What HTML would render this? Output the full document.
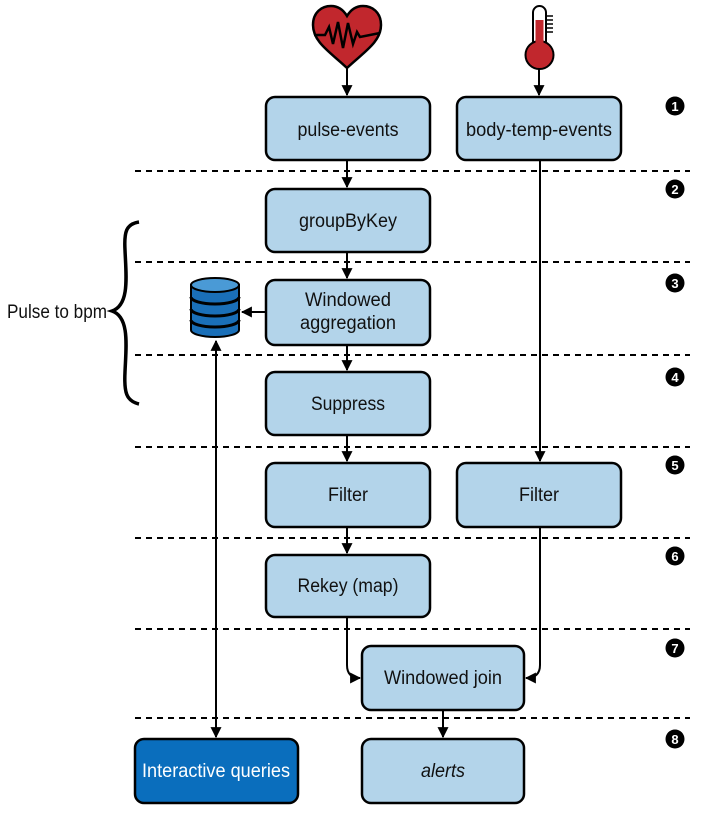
<!DOCTYPE html>
<html><head><meta charset="utf-8"><style>
html,body{margin:0;padding:0;background:#fff;}
svg{display:block}
text{font-family:"Liberation Sans Narrow","Liberation Sans",sans-serif;font-size:19px;fill:#111;}
</style></head><body>
<svg width="709" height="815" viewBox="0 0 709 815" xmlns="http://www.w3.org/2000/svg">
<defs>
<marker id="a" viewBox="0 0 10 10" refX="9" refY="5" markerWidth="5.5" markerHeight="5.5" orient="auto-start-reverse"><path d="M0,0 L10,5 L0,10 z" fill="#000"/></marker>
</defs>
<g stroke="#000" stroke-width="2" stroke-dasharray="6,5">
<line x1="135" y1="171" x2="690" y2="171"/>
<line x1="135" y1="262" x2="690" y2="262"/>
<line x1="135" y1="355" x2="690" y2="355"/>
<line x1="135" y1="447" x2="690" y2="447"/>
<line x1="135" y1="538" x2="690" y2="538"/>
<line x1="135" y1="629" x2="690" y2="629"/>
<line x1="135" y1="718" x2="690" y2="718"/>
</g>
<!-- heart -->
<path d="M347,68 C330,52 313,42 313,25 C313,12 322,6 331,6 C339,6 344,11 347,16 C350,11 355,6 363,6 C372,6 381,12 381,25 C381,42 364,52 347,68 Z" fill="#c1272d" stroke="#000" stroke-width="2.5"/>
<polyline points="314,35 325,35 329,27 333,44 338,22 343,48 348,23 353,44 357,32 360,37 380,33" fill="none" stroke="#000" stroke-width="2.5"/>
<!-- thermometer -->
<rect x="533" y="6" width="13" height="42" rx="6.5" fill="#fff" stroke="#000" stroke-width="2"/>
<rect x="535.5" y="20" width="8" height="34" fill="#c1272d"/>
<circle cx="539.5" cy="55" r="14" fill="#c1272d" stroke="#000" stroke-width="2"/>
<rect x="535.5" y="38" width="8" height="10" fill="#c1272d"/>
<g stroke="#000" stroke-width="1.5"><line x1="546" y1="16" x2="553" y2="16"/><line x1="546" y1="20" x2="553" y2="20"/><line x1="546" y1="24" x2="553" y2="24"/><line x1="546" y1="28" x2="553" y2="28"/><line x1="546" y1="32" x2="553" y2="32"/></g>
<!-- connectors -->
<g stroke="#000" stroke-width="2" fill="none">
<line x1="347" y1="68" x2="347" y2="95" marker-end="url(#a)"/>
<line x1="539" y1="69" x2="539" y2="95" marker-end="url(#a)"/>
<line x1="347" y1="160" x2="347" y2="187" marker-end="url(#a)"/>
<line x1="347" y1="252" x2="347" y2="278" marker-end="url(#a)"/>
<line x1="347" y1="345" x2="347" y2="370" marker-end="url(#a)"/>
<line x1="347" y1="435" x2="347" y2="461" marker-end="url(#a)"/>
<line x1="347" y1="527" x2="347" y2="553" marker-end="url(#a)"/>
<line x1="540" y1="160" x2="540" y2="461" marker-end="url(#a)"/>
<line x1="266" y1="312" x2="242" y2="312" marker-end="url(#a)"/>
<line x1="216" y1="341" x2="216" y2="737" marker-start="url(#a)" marker-end="url(#a)"/>
<path d="M347,617 L347,665 Q347,678 360,678" marker-end="url(#a)"/>
<path d="M540,527 L540,665 Q540,678 526,678" marker-end="url(#a)"/>
<line x1="443" y1="710" x2="443" y2="737" marker-end="url(#a)"/>
</g>
<!-- boxes -->
<g fill="#b3d4ea" stroke="#000" stroke-width="2.5">
<rect x="266" y="97" width="164" height="63" rx="9"/>
<rect x="457" y="97" width="164" height="63" rx="9"/>
<rect x="266" y="189" width="164" height="63" rx="9"/>
<rect x="266" y="280" width="164" height="65" rx="9"/>
<rect x="266" y="372" width="164" height="63" rx="9"/>
<rect x="266" y="463" width="164" height="64" rx="9"/>
<rect x="457" y="463" width="164" height="64" rx="9"/>
<rect x="266" y="555" width="164" height="62" rx="9"/>
<rect x="362" y="646" width="162" height="64" rx="9"/>
<rect x="362" y="739" width="162" height="64" rx="9"/>
<rect x="135" y="739" width="163" height="64" rx="9" fill="#0a6ebd"/>
</g>
<g text-anchor="middle" lengthAdjust="spacingAndGlyphs">
<text x="348" y="136" textLength="101" lengthAdjust="spacingAndGlyphs">pulse-events</text>
<text x="539" y="136" textLength="146" lengthAdjust="spacingAndGlyphs">body-temp-events</text>
<text x="348" y="227" textLength="98" lengthAdjust="spacingAndGlyphs">groupByKey</text>
<text x="348" y="306" textLength="86" lengthAdjust="spacingAndGlyphs">Windowed</text>
<text x="348" y="329" textLength="96" lengthAdjust="spacingAndGlyphs">aggregation</text>
<text x="348" y="410" textLength="74" lengthAdjust="spacingAndGlyphs">Suppress</text>
<text x="348" y="501" textLength="40" lengthAdjust="spacingAndGlyphs">Filter</text>
<text x="539" y="501" textLength="40" lengthAdjust="spacingAndGlyphs">Filter</text>
<text x="348" y="592" textLength="101" lengthAdjust="spacingAndGlyphs">Rekey (map)</text>
<text x="443" y="684" textLength="118" lengthAdjust="spacingAndGlyphs">Windowed join</text>
<text x="443" y="777" font-style="italic" textLength="44" lengthAdjust="spacingAndGlyphs">alerts</text>
<text x="216" y="777" style="fill:#fff" textLength="148" lengthAdjust="spacingAndGlyphs">Interactive queries</text>
</g>
<!-- database -->
<g stroke="#000" stroke-width="2">
<path d="M191,285 L191,330 A24,7 0 0 0 239,330 L239,285 Z" fill="#1a6fb8"/>
<ellipse cx="215" cy="285" rx="24" ry="7" fill="#4a9ad6"/>
<path d="M191,297 A24,7 0 0 0 239,297 M191,309 A24,7 0 0 0 239,309 M191,320 A24,7 0 0 0 239,320" fill="none" stroke-width="3"/>
</g>
<!-- brace -->
<path d="M139,222 C126,224 124,232 125,250 C126,275 130,305 112,311 C130,317 126,347 125,372 C124,392 126,401 139,404" fill="none" stroke="#000" stroke-width="3.5"/>
<text x="7" y="318" textLength="100" lengthAdjust="spacingAndGlyphs">Pulse to bpm</text>
<!-- numbers -->
<g>
<circle cx="675" cy="106" r="9.5"/><circle cx="675" cy="189" r="9.5"/><circle cx="675" cy="283" r="9.5"/><circle cx="675" cy="377" r="9.5"/><circle cx="675" cy="465" r="9.5"/><circle cx="675" cy="556" r="9.5"/><circle cx="675" cy="648" r="9.5"/><circle cx="675" cy="739" r="9.5"/>
</g>
<g text-anchor="middle">
<text x="675" y="111" style="fill:#fff;font-size:13px;font-weight:bold">1</text>
<text x="675" y="194" style="fill:#fff;font-size:13px;font-weight:bold">2</text>
<text x="675" y="288" style="fill:#fff;font-size:13px;font-weight:bold">3</text>
<text x="675" y="382" style="fill:#fff;font-size:13px;font-weight:bold">4</text>
<text x="675" y="470" style="fill:#fff;font-size:13px;font-weight:bold">5</text>
<text x="675" y="561" style="fill:#fff;font-size:13px;font-weight:bold">6</text>
<text x="675" y="653" style="fill:#fff;font-size:13px;font-weight:bold">7</text>
<text x="675" y="744" style="fill:#fff;font-size:13px;font-weight:bold">8</text>
</g>
</svg>
</body></html>
